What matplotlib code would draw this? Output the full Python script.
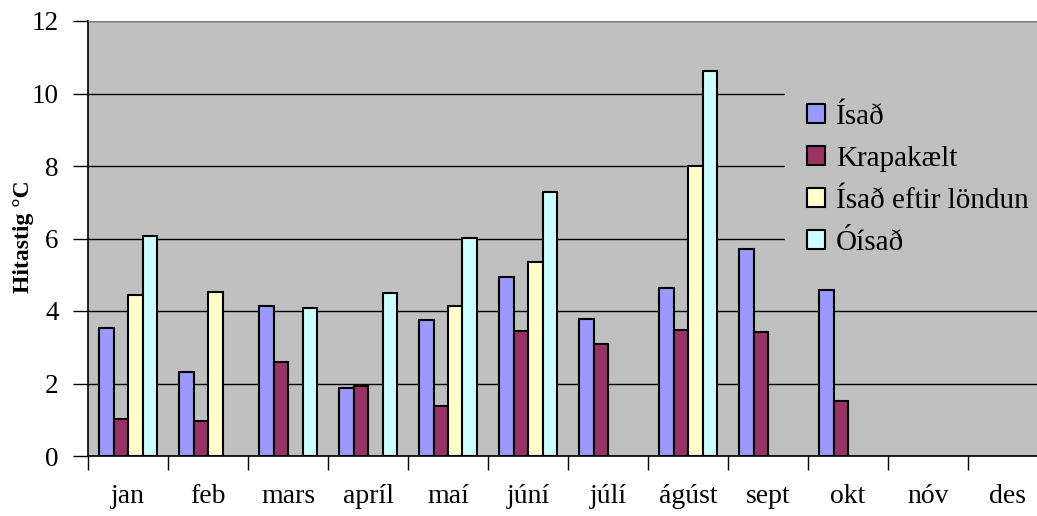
import matplotlib
matplotlib.use("Agg")
import matplotlib.pyplot as plt
import numpy as np

# Monthly temperatures (°C) per storage method, None = no measurement
months = ["jan", "feb", "mars", "apríl", "maí", "júní", "júlí", "ágúst",
          "sept", "okt", "nóv", "des"]
isad = [3.53, 2.32, 4.14, 1.88, 3.75, 4.94, 3.78, 4.64, 5.71, 4.59, None, None]
krapakaelt = [1.02, 0.97, 2.59, 1.93, 1.38, 3.45, 3.09, 3.48, 3.42, 1.52, None, None]
isad_eftir = [4.44, 4.52, None, None, 4.14, 5.35, None, 8.0, None, None, None, None]
oisad = [6.07, None, 4.08, 4.5, 6.01, 7.28, None, 10.63, None, None, None, None]

series = [
    ("Ísað", isad, "#9999FF"),
    ("Krapakælt", krapakaelt, "#993366"),
    ("Ísað eftir löndun", isad_eftir, "#FFFFCC"),
    ("Óísað", oisad, "#CCFFFF"),
]

plt.rcParams["font.family"] = ["Liberation Serif", "DejaVu Serif"]

W, H = 1037, 516
fig = plt.figure(figsize=(W / 100, H / 100), dpi=100)
# plot area runs slightly past the right edge of the picture, as in the source
left, right, top, bottom = 88, 1048, 21, 456
ax = fig.add_axes([left / W, (H - bottom) / H, (right - left) / W, (bottom - top) / H])
ax.set_facecolor("#C0C0C0")

x = np.arange(len(months))
bw = 14.5 / 80
for i, (name, vals, color) in enumerate(series):
    v = np.array([np.nan if a is None else a for a in vals], dtype=float)
    ax.bar(x + (i - 1.5) * bw, v, width=bw, color=color, edgecolor="black",
           linewidth=1.5, label=name, zorder=3)

ax.set_xlim(-0.5, len(months) - 0.5)
ax.set_ylim(0, 12)
ax.set_yticks(np.arange(0, 13, 2))
ax.yaxis.grid(True, color="black", linewidth=1)
ax.set_axisbelow(True)

ax.set_xticks(x)
ax.set_xticklabels(months)
ax.set_xticks(np.arange(-0.5, len(months)), minor=True)
ax.tick_params(axis="x", which="major", length=0, pad=20, labelsize=20)
ax.tick_params(axis="x", which="minor", length=10, width=1, direction="out")
ax.tick_params(axis="y", length=11, width=1, direction="out", pad=10, labelsize=19.5)

for s in ["left", "bottom"]:
    ax.spines[s].set_color("black")
    ax.spines[s].set_linewidth(1.2)
ax.spines["top"].set_color("#808080")
ax.spines["right"].set_visible(False)

fig.text(23 / W, 1 - 237 / H, "Hitastig °C", rotation=90, ha="center", va="center",
         fontsize=17, fontweight="bold")

leg = ax.legend(loc="upper left", bbox_to_anchor=(785 / W, 1 - 82 / H),
                bbox_transform=fig.transFigure, borderaxespad=0, borderpad=0.75,
                fontsize=21, handlelength=0.62, handleheight=0.62,
                handletextpad=0.38, labelspacing=0.55, fancybox=False,
                framealpha=1, facecolor="#C0C0C0", edgecolor="#C0C0C0")
leg.set_zorder(5)

fig.savefig("out.png", dpi=100)
